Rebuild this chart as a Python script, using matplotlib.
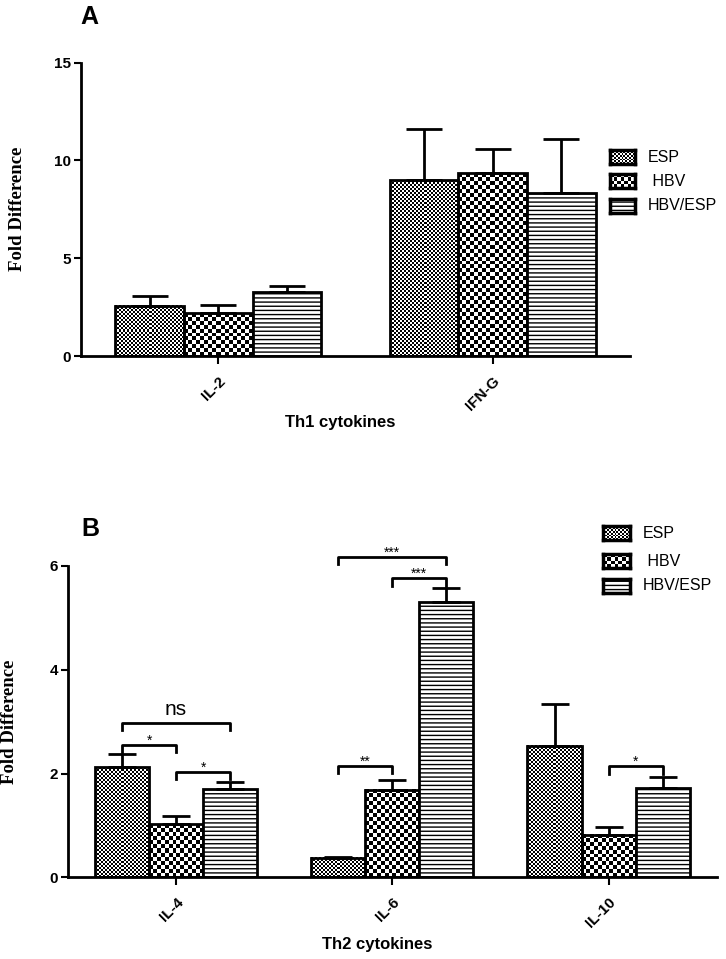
import numpy as np
import matplotlib
matplotlib.use('Agg')
import matplotlib.pyplot as plt

plt.rcParams['font.family'] = ['Liberation Sans', 'DejaVu Sans']
plt.rcParams['hatch.linewidth'] = 1.0

groups = ['ESP', ' HBV', 'HBV/ESP']

# panel A - Th1
th1_labels = ['IL-2', 'IFN-G']
th1_esp = [2.56, 9.00]
th1_esp_sem = [0.49, 2.60]
th1_hbv = [2.18, 9.34]
th1_hbv_sem = [0.41, 1.23]
th1_combo = [3.26, 8.32]
th1_combo_sem = [0.32, 2.76]

# panel B - Th2
th2_labels = ['IL-4', 'IL-6', 'IL-10']
th2_esp = [2.12, 0.37, 2.54]
th2_esp_sem = [0.26, 0.03, 0.80]
th2_hbv = [1.02, 1.68, 0.815]
th2_hbv_sem = [0.16, 0.19, 0.16]
th2_combo = [1.70, 5.31, 1.73]
th2_combo_sem = [0.13, 0.26, 0.20]

# significance brackets: (category, bar i, bar j, height, label)
th2_sig = [
    (0, 0, 2, 2.98, 'ns'),
    (0, 0, 1, 2.55, '*'),
    (0, 1, 2, 2.03, '*'),
    (1, 0, 2, 6.17, '***'),
    (1, 1, 2, 5.76, '***'),
    (1, 0, 1, 2.15, '**'),
    (2, 1, 2, 2.14, '*'),
]

W, H = 726, 959
BAR_W = 0.25
# pattern per group: checker cell size in pixels, or None for stripes
PATTERNS = [2, 4, None]


def fx(px):
    return px / W


def fy(py):
    return 1 - py / H


def checker(nr, nc):
    nr, nc = max(nr, 1), max(nc, 1)
    return np.add.outer(np.arange(nr), np.arange(nc)) % 2


def fill_checker(ax, x0, x1, y0, y1, cell):
    p0 = ax.transData.transform((x0, y0))
    p1 = ax.transData.transform((x1, y1))
    nc = int(round(abs(p1[0] - p0[0]) / cell))
    nr = int(round(abs(p1[1] - p0[1]) / cell))
    ax.imshow(checker(nr, nc), cmap='gray', vmin=0, vmax=1, extent=(x0, x1, y0, y1),
              interpolation='nearest', aspect='auto', zorder=1)


def draw_panel(ax, cats, series, sems, ymax, ystep, capsize):
    n = len(cats)
    xs = np.arange(n)
    ax.set_xlim(-0.5, n - 0.5)
    ax.set_ylim(0, ymax)
    for k, (vals, sem) in enumerate(zip(series, sems)):
        pos = xs + (k - 1) * BAR_W
        cell = PATTERNS[k]
        if cell is None:
            ax.bar(pos, vals, BAR_W, facecolor='white', edgecolor='black', linewidth=2,
                   hatch='----', zorder=2)
        else:
            ax.bar(pos, vals, BAR_W, facecolor='none', edgecolor='black', linewidth=2, zorder=2)
            for p, v in zip(pos, vals):
                fill_checker(ax, p - BAR_W / 2, p + BAR_W / 2, 0, v, cell)
        ax.errorbar(pos, vals, yerr=[np.zeros(n), sem], fmt='none', ecolor='black',
                    elinewidth=2, capsize=capsize, capthick=2, zorder=3)
    ax.set_xlim(-0.5, n - 0.5)
    ax.set_ylim(0, ymax)
    ax.set_yticks(np.arange(0, ymax + 0.01, ystep))
    ax.set_xticks(xs)
    ax.set_xticklabels(cats, rotation=45, ha='right', rotation_mode='anchor',
                       fontsize=11, fontweight='bold')
    for t in ax.get_yticklabels():
        t.set_fontweight('bold')
        t.set_fontsize(11)
    ax.tick_params(axis='y', length=5, width=1.5, pad=2)
    ax.tick_params(axis='x', length=6, width=1.5, pad=7)
    for s in ['top', 'right']:
        ax.spines[s].set_visible(False)
    for s in ['left', 'bottom']:
        ax.spines[s].set_linewidth(2)


def legend(fig, x0, x1, ys, h, tx):
    for k, (name, y) in enumerate(zip(groups, ys)):
        sw = fig.add_axes([fx(x0), fy(y + h / 2), fx(x1 - x0), h / H])
        sw.set_xticks([])
        sw.set_yticks([])
        cell = PATTERNS[k]
        if cell is None:
            sw.add_patch(plt.Rectangle((0, 0), 1, 1, facecolor='white', hatch='----',
                                       edgecolor='black', linewidth=0))
        else:
            sw.imshow(checker(int(h / cell) + 1, int((x1 - x0) / cell) + 1), cmap='gray',
                      vmin=0, vmax=1, extent=(0, 1, 0, 1), interpolation='nearest', aspect='auto')
        sw.set_xlim(0, 1)
        sw.set_ylim(0, 1)
        for s in sw.spines.values():
            s.set_linewidth(2.5)
        fig.text(fx(tx), fy(y), name, fontsize=11.5, va='center', ha='left')


fig = plt.figure(figsize=(W / 100, H / 100), dpi=100)

ax_a = fig.add_axes([fx(81), fy(356), fx(549), 293.3 / H])
draw_panel(ax_a, th1_labels, [th1_esp, th1_hbv, th1_combo],
           [th1_esp_sem, th1_hbv_sem, th1_combo_sem], 15, 5, 13)

ax_b = fig.add_axes([fx(68), fy(877.3), fx(648.7), 311.3 / H])
draw_panel(ax_b, th2_labels, [th2_esp, th2_hbv, th2_combo],
           [th2_esp_sem, th2_hbv_sem, th2_combo_sem], 6, 2, 10)

for cat, i, j, y, lab in th2_sig:
    x0 = cat + (i - 1) * BAR_W
    x1 = cat + (j - 1) * BAR_W
    ax_b.plot([x0, x0, x1, x1], [y - 0.14, y, y, y - 0.14], color='black', lw=2,
              clip_on=False, zorder=4)
    if lab == 'ns':
        ax_b.annotate(lab, xy=((x0 + x1) / 2, y), xytext=(0, 3), textcoords='offset points',
                      ha='center', va='bottom', fontsize=15, annotation_clip=False)
    else:
        ax_b.annotate(lab, xy=((x0 + x1) / 2, y), xytext=(0, -2), textcoords='offset points',
                      ha='center', va='bottom', fontsize=10, annotation_clip=False)

# labels
fig.text(fx(89), fy(17), 'A', fontsize=18, fontweight='bold', ha='center', va='center')
fig.text(fx(90), fy(529), 'B', fontsize=18, fontweight='bold', ha='center', va='center')
fig.text(fx(18), fy(209), 'Fold Difference', rotation=90, fontsize=13.5, fontweight='bold',
         family='Liberation Serif', ha='center', va='center')
fig.text(fx(10), fy(722), 'Fold Difference', rotation=90, fontsize=13.5, fontweight='bold',
         family='Liberation Serif', ha='center', va='center')
fig.text(fx(340), fy(423), 'Th1 cytokines', fontsize=12, fontweight='bold', ha='center', va='center')
fig.text(fx(377), fy(945), 'Th2 cytokines', fontsize=12, fontweight='bold', ha='center', va='center')

legend(fig, 610, 635, [157, 181, 206], 14, 648)
legend(fig, 603, 630, [533, 561, 586], 14, 643)

fig.savefig('out.png', dpi=100)
